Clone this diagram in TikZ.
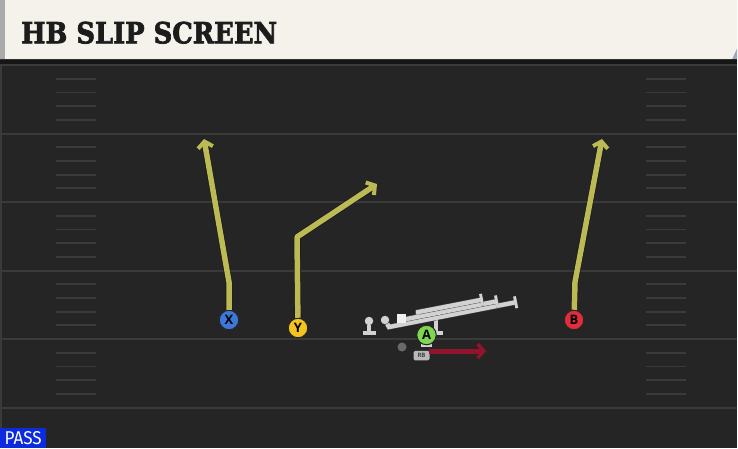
\documentclass[tikz,border=0pt]{standalone}
\usepackage{fontspec}
\usetikzlibrary{arrows.meta}
\newfontfamily\titlefont{DejaVu Serif}[FakeBold=2.5, BoldFeatures={FakeBold=2.5}]
\newfontfamily\labelfont{Open Sans}
\newfontfamily\passfont{Fira Sans}
\definecolor{fieldbg}{RGB}{37,37,37}
\definecolor{fieldline}{RGB}{58,58,58}
\definecolor{shadowc}{RGB}{22,22,22}
\definecolor{titlebg}{RGB}{245,242,235}
\definecolor{titletext}{RGB}{28,28,28}
\definecolor{stripc}{RGB}{170,170,170}
\definecolor{chamferc}{RGB}{160,168,180}
\definecolor{routey}{RGB}{188,186,84}
\definecolor{blockred}{RGB}{145,20,44}
\definecolor{pblue}{RGB}{60,120,215}
\definecolor{pyellow}{RGB}{245,195,30}
\definecolor{pred}{RGB}{225,45,60}
\definecolor{pgreen}{RGB}{125,215,80}
\definecolor{olgray}{RGB}{210,210,210}
\definecolor{qbgray}{RGB}{105,105,105}
\definecolor{rbgray}{RGB}{185,185,185}
\definecolor{passblue}{RGB}{12,42,222}
\begin{document}
\begin{tikzpicture}[x=1pt,y=-1pt,
  player/.style={circle, draw=black!85, line width=1pt, minimum size=19.5pt, inner sep=0pt,
    font=\labelfont\bfseries\fontsize{13}{13}\selectfont},
  route/.style={routey, line width=5.5pt, line join=round,
    -{Straight Barb[length=6pt,width=15pt,line width=4pt]},
    preaction={draw=black!90, line width=6.8pt}},
  motion/.style={blockred, line width=5pt, -{Straight Barb[length=6pt,width=14pt,line width=3.5pt]}},
  blockline/.style={olgray, line width=4.4pt, -{Bar[width=12pt,line width=2.8pt]},
    preaction={draw=black!70, line width=5.2pt}},
  olcirc/.style={circle, fill=olgray, minimum size=8.5pt, inner sep=0pt},
  olbase/.style={rectangle, fill=olgray, minimum width=13pt, minimum height=4.5pt, inner sep=0pt},
  yardline/.style={fieldline, line width=2pt},
  hashline/.style={fieldline, line width=1.8pt}]
\useasboundingbox (0,0) rectangle (738,448);
\fill[white] (0,0) rectangle (738,448);
% field
\fill[fieldbg] (0,59) rectangle (737,448);
\fill[shadowc] (0,59) rectangle (737,64);
\fill[fieldline] (0,64) rectangle (2,448);
\foreach \j in {0,...,5}
  \draw[yardline] (0,65+68.5*\j) -- (737,65+68.5*\j);
\foreach \j in {0,...,4}
  \foreach \i in {1,...,4} {
    \draw[hashline] (56,65+68.5*\j+13.7*\i) -- (96,65+68.5*\j+13.7*\i);
    \draw[hashline] (646,65+68.5*\j+13.7*\i) -- (686,65+68.5*\j+13.7*\i);
  }
% title bar
\fill[chamferc] (737,48) -- (737,59) -- (732,59) -- cycle;
\fill[titlebg] (0,0) -- (737,0) -- (737,48) -- (732,59) -- (0,59) -- cycle;
\fill[stripc] (0,0) rectangle (5,59);
\node[anchor=base west, inner sep=0pt, text=titletext] (title) at (21,43.3)
  {\resizebox{256pt}{21.6pt}{\titlefont\bfseries HB SLIP SCREEN}};
% offensive line
\node[olcirc] (LT) at (369,321) {};
\node[olbase] (LTb) at (369,333) {};
\draw[olgray, line width=3.8pt] (LT) -- (LTb);
\node[olcirc] (LG) at (385,320) {};
\node[olcirc] (RG) at (418,319) {};
\node[olbase, minimum width=14pt] (RTb) at (436,333) {};
\coordinate (lgk) at (389,327);
\coordinate (lge) at (517,302);
\coordinate (ck) at (404,319.5);
\coordinate (ce) at (498,301.1);
\coordinate (rgk) at (418,312.1);
\coordinate (rge) at (483,299.5);
\coordinate (rtk) at (436,314);
\draw[olgray, line width=3.8pt] (RTb) -- (rtk);
\draw[blockline] (LG) -- (lgk) -- (lge);
\draw[blockline] (401.5,318) -- (ck) -- (ce);
\draw[blockline] (RG) -- (rgk) -- (rge);
\node[rectangle, fill=white!94!black, minimum size=9pt, inner sep=0pt] (C) at (401.5,318) {};
% backfield
\node[circle, fill=qbgray, minimum size=9pt, inner sep=0pt] (QB) at (402,347) {};
\node[olbase, minimum width=11pt, minimum height=4pt] (Ab) at (426.5,345) {};
\node[player, fill=pgreen] (A) at (426.5,335) {A};
\node[rectangle, rounded corners=1.5pt, fill=rbgray, minimum width=16pt, minimum height=9.5pt,
  inner sep=0pt, text=black!75, font=\labelfont\fontsize{6}{6}\selectfont\bfseries] (RB) at (421.5,355.5) {RB};
\coordinate (rbs) at (429,351);
\coordinate (rbe) at (486,351);
\draw[motion] (rbs) -- (rbe);
% receivers
\node[player, fill=pblue] (X) at (229,320) {X};
\node[player, fill=pyellow] (Y) at (298,328) {Y};
\node[player, fill=pred] (B) at (574,320) {B};
\coordinate (xk) at (229,282);
\coordinate (xe) at (204,139);
\coordinate (yk) at (297,237);
\coordinate (ye) at (377,184);
\coordinate (bk) at (575,282);
\coordinate (be) at (602,139);
\draw[route] (X) -- (xk) -- (xe);
\draw[route] (Y) -- (yk) -- (ye);
\draw[route] (B) -- (bk) -- (be);
% play type
\node[anchor=south west, fill=passblue, minimum width=46pt, minimum height=20pt, inner sep=0pt,
  text=white] (pass) at (0,448) {\resizebox{37pt}{13pt}{\passfont PASS}};
\end{tikzpicture}
\end{document}
